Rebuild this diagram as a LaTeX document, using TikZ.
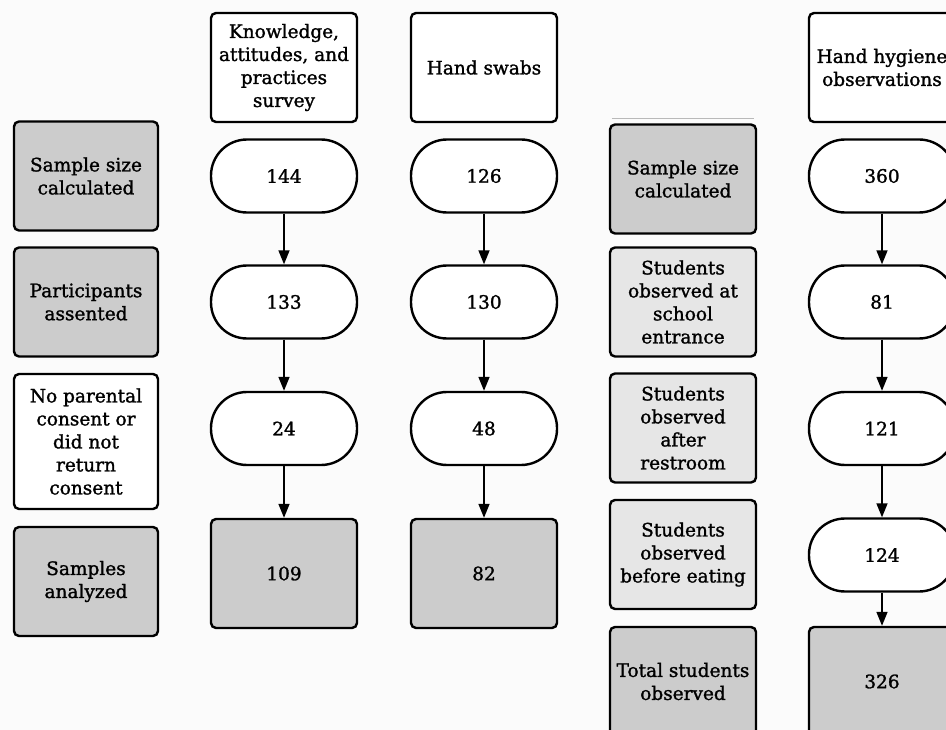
\documentclass[tikz,border=0pt]{standalone}
\usepackage{fontspec}
\setmainfont{DejaVu Serif}
\newfontfamily\boxfont{DejaVu Serif}[FakeBold=1.4]
\usetikzlibrary{arrows.meta,positioning}
\definecolor{boxdark}{HTML}{CCCCCC}
\definecolor{boxlight}{HTML}{E6E6E6}
\definecolor{backdrop}{HTML}{FBFBFB}

\begin{document}
\begin{tikzpicture}[x=1pt,y=-1pt,
    block/.style={rectangle,draw,line width=2.4pt,rounded corners=5pt,
      minimum width=146pt,minimum height=109pt,align=center,inner sep=1pt,
      font=\boxfont\fontsize{18.5}{23}\selectfont},
    dark_block/.style={block,fill=boxdark},
    light_block/.style={block,fill=boxlight},
    count/.style={block,fill=white,rounded corners=36pt,minimum height=73pt},
    connector/.style={-{Triangle[length=14pt,width=11pt]},line width=1.6pt}]
    % Canvas in pixel units of the original figure
    \useasboundingbox[fill=backdrop] (0,0) rectangle (946,730);
    \clip (0,0) rectangle (946,730);

    % Row labels on the left
    \node (ssc) [dark_block,minimum width=144pt] at (86,176) {Sample size\\calculated};
    \node (assented) [dark_block,minimum width=144pt] at (86,302) {Participants\\assented};
    \node (no_consent) [block,fill=white,minimum width=144pt,minimum height=135pt] at (86,441.5)
      {No parental\\consent or\\did not\\return\\consent};
    \node (analyzed) [dark_block,minimum width=144pt] at (86,581.5) {Samples\\analyzed};

    % Knowledge, attitudes and practices survey
    \node (kap_head) [block,fill=white] at (284,67.5) {Knowledge,\\attitudes, and\\practices\\survey};
    \node (kap_calc) [count] at (284,176) {144};
    \node (kap_assent) [count] at (284,302) {133};
    \node (kap_consent) [count] at (284,428.5) {24};
    \node (kap_total) [dark_block] at (284,573.5) {109};

    % Hand swabs
    \node (swab_head) [block,fill=white] at (484,67.5) {Hand swabs};
    \node (swab_calc) [count] at (484,176) {126};
    \node (swab_assent) [count] at (484,302) {130};
    \node (swab_consent) [count] at (484,428.5) {48};
    \node (swab_total) [dark_block] at (484,573.5) {82};

    % Row labels for the observations
    \node (obs_calc) [dark_block] at (683,179) {Sample size\\calculated};
    \node (obs_entrance) [light_block] at (683,302) {Students\\observed at\\school\\entrance};
    \node (obs_restroom) [light_block] at (683,428) {Students\\observed\\after\\restroom};
    \node (obs_eating) [light_block] at (683,554.5) {Students\\observed\\before eating};
    \node (obs_total) [dark_block] at (683,681.5) {Total students\\observed};
    \draw[gray!55,line width=0.8pt] ([xshift=3pt,yshift=5pt]obs_calc.north west)
      -- ([xshift=-3pt,yshift=5pt]obs_calc.north east);

    % Hand hygiene observations
    \node (hh_head) [block,fill=white] at (882,67.5) {Hand hygiene\\observations};
    \node (hh_calc) [count] at (882,176) {360};
    \node (hh_entrance) [count] at (882,302) {81};
    \node (hh_restroom) [count] at (882,428.5) {121};
    \node (hh_eating) [count] at (882,555) {124};
    \node (hh_total) [dark_block] at (882,681.5) {326};

    \draw[connector] (kap_calc) to (kap_assent);
    \draw[connector] (kap_assent) to (kap_consent);
    \draw[connector] (kap_consent) to (kap_total);
    \draw[connector] (swab_calc) to (swab_assent);
    \draw[connector] (swab_assent) to (swab_consent);
    \draw[connector] (swab_consent) to (swab_total);
    \draw[connector] (hh_calc) to (hh_entrance);
    \draw[connector] (hh_entrance) to (hh_restroom);
    \draw[connector] (hh_restroom) to (hh_eating);
    \draw[connector] (hh_eating) to (hh_total);
\end{tikzpicture}
\end{document}
